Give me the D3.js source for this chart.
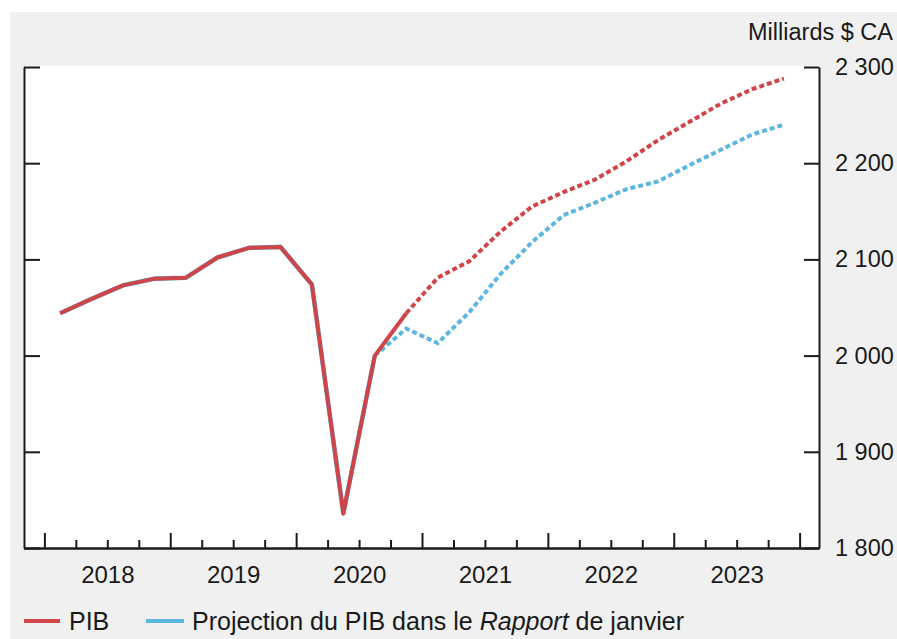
<!DOCTYPE html>
<html>
<head>
<meta charset="utf-8">
<script src="https://cdn.jsdelivr.net/npm/d3@7"></script>
<style>
  html, body { margin: 0; padding: 0; background: #ffffff; }
  svg { display: block; }
  text { font-family: "Liberation Sans", Arial, Helvetica, sans-serif; fill: #1a1a1a; }
</style>
</head>
<body>
<svg id="chart" width="897" height="639"></svg>
<script>
// ---- Data (milliards $ CA) ----
const periods = [
  "2018T1","2018T2","2018T3","2018T4",
  "2019T1","2019T2","2019T3","2019T4",
  "2020T1","2020T2","2020T3","2020T4",
  "2021T1","2021T2","2021T3","2021T4",
  "2022T1","2022T2","2022T3","2022T4",
  "2023T1","2023T2","2023T3","2023T4"
];
const pib = [
  2044, 2059, 2073, 2080,
  2081, 2102, 2112, 2113,
  2074, 1836, 2000, 2044,
  2081, 2098, 2129, 2155,
  2170, 2183, 2202, 2224,
  2243, 2262, 2277, 2288
];
const projJanvier = [
  2044, 2059, 2073, 2080,
  2081, 2102, 2112, 2113,
  2074, 1836, 2000, 2028,
  2013, 2045, 2085, 2118,
  2146, 2159, 2173, 2181,
  2198, 2214, 2230, 2240
];
const lastActualPib = "2020T4";
const lastActualJanvier = "2020T3";
const years = [2018, 2019, 2020, 2021, 2022, 2023];
const yTicks = [1800, 1900, 2000, 2100, 2200, 2300];
const unitLabel = "Milliards $ CA";
const legendPib = "PIB";
const legendJanvier = ["Projection du PIB dans le ", "Rapport", " de janvier"];

// ---- Setup ----
const W = 897, H = 639;
const plot = { left: 24, right: 819, top: 67, bottom: 548 };
const red = "#cf4547", blue = "#5cb6e0", axisColor = "#1a1a1a";
const fontFamily = '"Liberation Sans", Arial, sans-serif';

const svg = d3.select("#chart");
svg.append("rect").attr("x", 10).attr("y", 12).attr("width", W - 10).attr("height", H - 12).attr("fill", "#f0f0f0");
svg.append("rect").attr("x", plot.left).attr("y", plot.top - 1)
   .attr("width", plot.right - plot.left).attr("height", plot.bottom - plot.top + 1).attr("fill", "#ffffff");

// time value of a quarter (start of quarter)
const tStart = p => +p.slice(0, 4) + (+p.slice(5) - 1) / 4;
const tMid = p => tStart(p) + 0.125;

const x = d3.scaleLinear().domain([2017.838, 2024.154]).range([plot.left, plot.right]);
const y = d3.scaleLinear().domain([1800, 2300]).range([plot.bottom, plot.top]);

const locale = d3.formatLocale({ decimal: ",", thousands: " ", grouping: [3], currency: ["", " $"] });
const fmt = locale.format(",");

// ---- Axes ----
function styleAxis(g) {
  g.selectAll("path.domain").attr("stroke", axisColor).attr("stroke-width", 2);
  g.selectAll(".tick line").attr("stroke", axisColor).attr("stroke-width", 2);
}

// Left axis (ticks inward, no labels)
svg.append("g").attr("transform", `translate(${plot.left},0)`)
  .call(d3.axisRight(y).tickValues(yTicks).tickSizeInner(16).tickSizeOuter(0).tickFormat(""))
  .call(styleAxis);

// Right axis (ticks inward, labels outside)
const ra = svg.append("g").attr("transform", `translate(${plot.right},0)`)
  .call(d3.axisRight(y).tickValues(yTicks).tickSizeInner(-15).tickSizeOuter(0).tickPadding(16).tickFormat(fmt))
  .call(styleAxis);
ra.selectAll(".tick text").attr("font-size", 23.5).attr("fill", axisColor).attr("font-family", fontFamily);

// Bottom axis: quarter minor ticks
const quarterTicks = [];
years.forEach(yr => [0.25, 0.5, 0.75].forEach(f => quarterTicks.push(yr + f)));
svg.append("g").attr("transform", `translate(0,${plot.bottom})`)
  .call(d3.axisBottom(x).tickValues(quarterTicks).tickSizeInner(-8).tickSizeOuter(0).tickFormat(""))
  .call(styleAxis);
// major year ticks
const yearBounds = years.concat([years[years.length - 1] + 1]);
svg.append("g").attr("transform", `translate(0,${plot.bottom})`)
  .call(d3.axisBottom(x).tickValues(yearBounds).tickSizeInner(-15).tickSizeOuter(0).tickFormat(""))
  .call(styleAxis);
// year labels at year midpoints
const xl = svg.append("g").attr("transform", `translate(0,${plot.bottom})`)
  .call(d3.axisBottom(x).tickValues(years.map(v => v + 0.5)).tickSize(0).tickPadding(18).tickFormat(v => String(Math.floor(v))));
xl.select("path.domain").remove();
xl.selectAll(".tick text").attr("font-size", 24).attr("fill", axisColor).attr("font-family", fontFamily);

// Unit label
svg.append("text").attr("x", 893).attr("y", 40).attr("text-anchor", "end")
  .attr("font-size", 23.5).text(unitLabel);

// ---- Lines ----
const line = d3.line().x(d => x(tMid(d.p))).y(d => y(d.v));
const pibData = periods.map((p, i) => ({ p, v: pib[i] }));
const janData = periods.map((p, i) => ({ p, v: projJanvier[i] }));
const idxPib = periods.indexOf(lastActualPib);
const idxJan = periods.indexOf(lastActualJanvier);

const dash = "5,3";
// Blue (January report)
svg.append("path").datum(janData.slice(0, idxJan + 1)).attr("d", line)
  .attr("fill", "none").attr("stroke", blue).attr("stroke-width", 4.6).attr("stroke-linejoin", "round");
svg.append("path").datum(janData.slice(idxJan)).attr("d", line)
  .attr("fill", "none").attr("stroke", blue).attr("stroke-width", 4).attr("stroke-dasharray", dash);
// Red (PIB)
svg.append("path").datum(pibData.slice(0, idxPib + 1)).attr("d", line)
  .attr("fill", "none").attr("stroke", red).attr("stroke-width", 4).attr("stroke-linejoin", "round");
svg.append("path").datum(pibData.slice(idxPib)).attr("d", line)
  .attr("fill", "none").attr("stroke", red).attr("stroke-width", 4).attr("stroke-dasharray", dash);

// ---- Legend ----
const lg = svg.append("g").attr("transform", "translate(0,621)");
lg.append("line").attr("x1", 24).attr("x2", 60).attr("y1", 0).attr("y2", 0).attr("stroke", red).attr("stroke-width", 4);
lg.append("text").attr("x", 69).attr("y", 9).attr("font-size", 25).text(legendPib);
lg.append("line").attr("x1", 146).attr("x2", 184).attr("y1", 0).attr("y2", 0).attr("stroke", blue).attr("stroke-width", 4);
const lt = lg.append("text").attr("x", 192).attr("y", 9).attr("font-size", 25);
lt.append("tspan").text(legendJanvier[0]);
lt.append("tspan").attr("font-style", "italic").text(legendJanvier[1]);
lt.append("tspan").text(legendJanvier[2]);
</script>
</body>
</html>
